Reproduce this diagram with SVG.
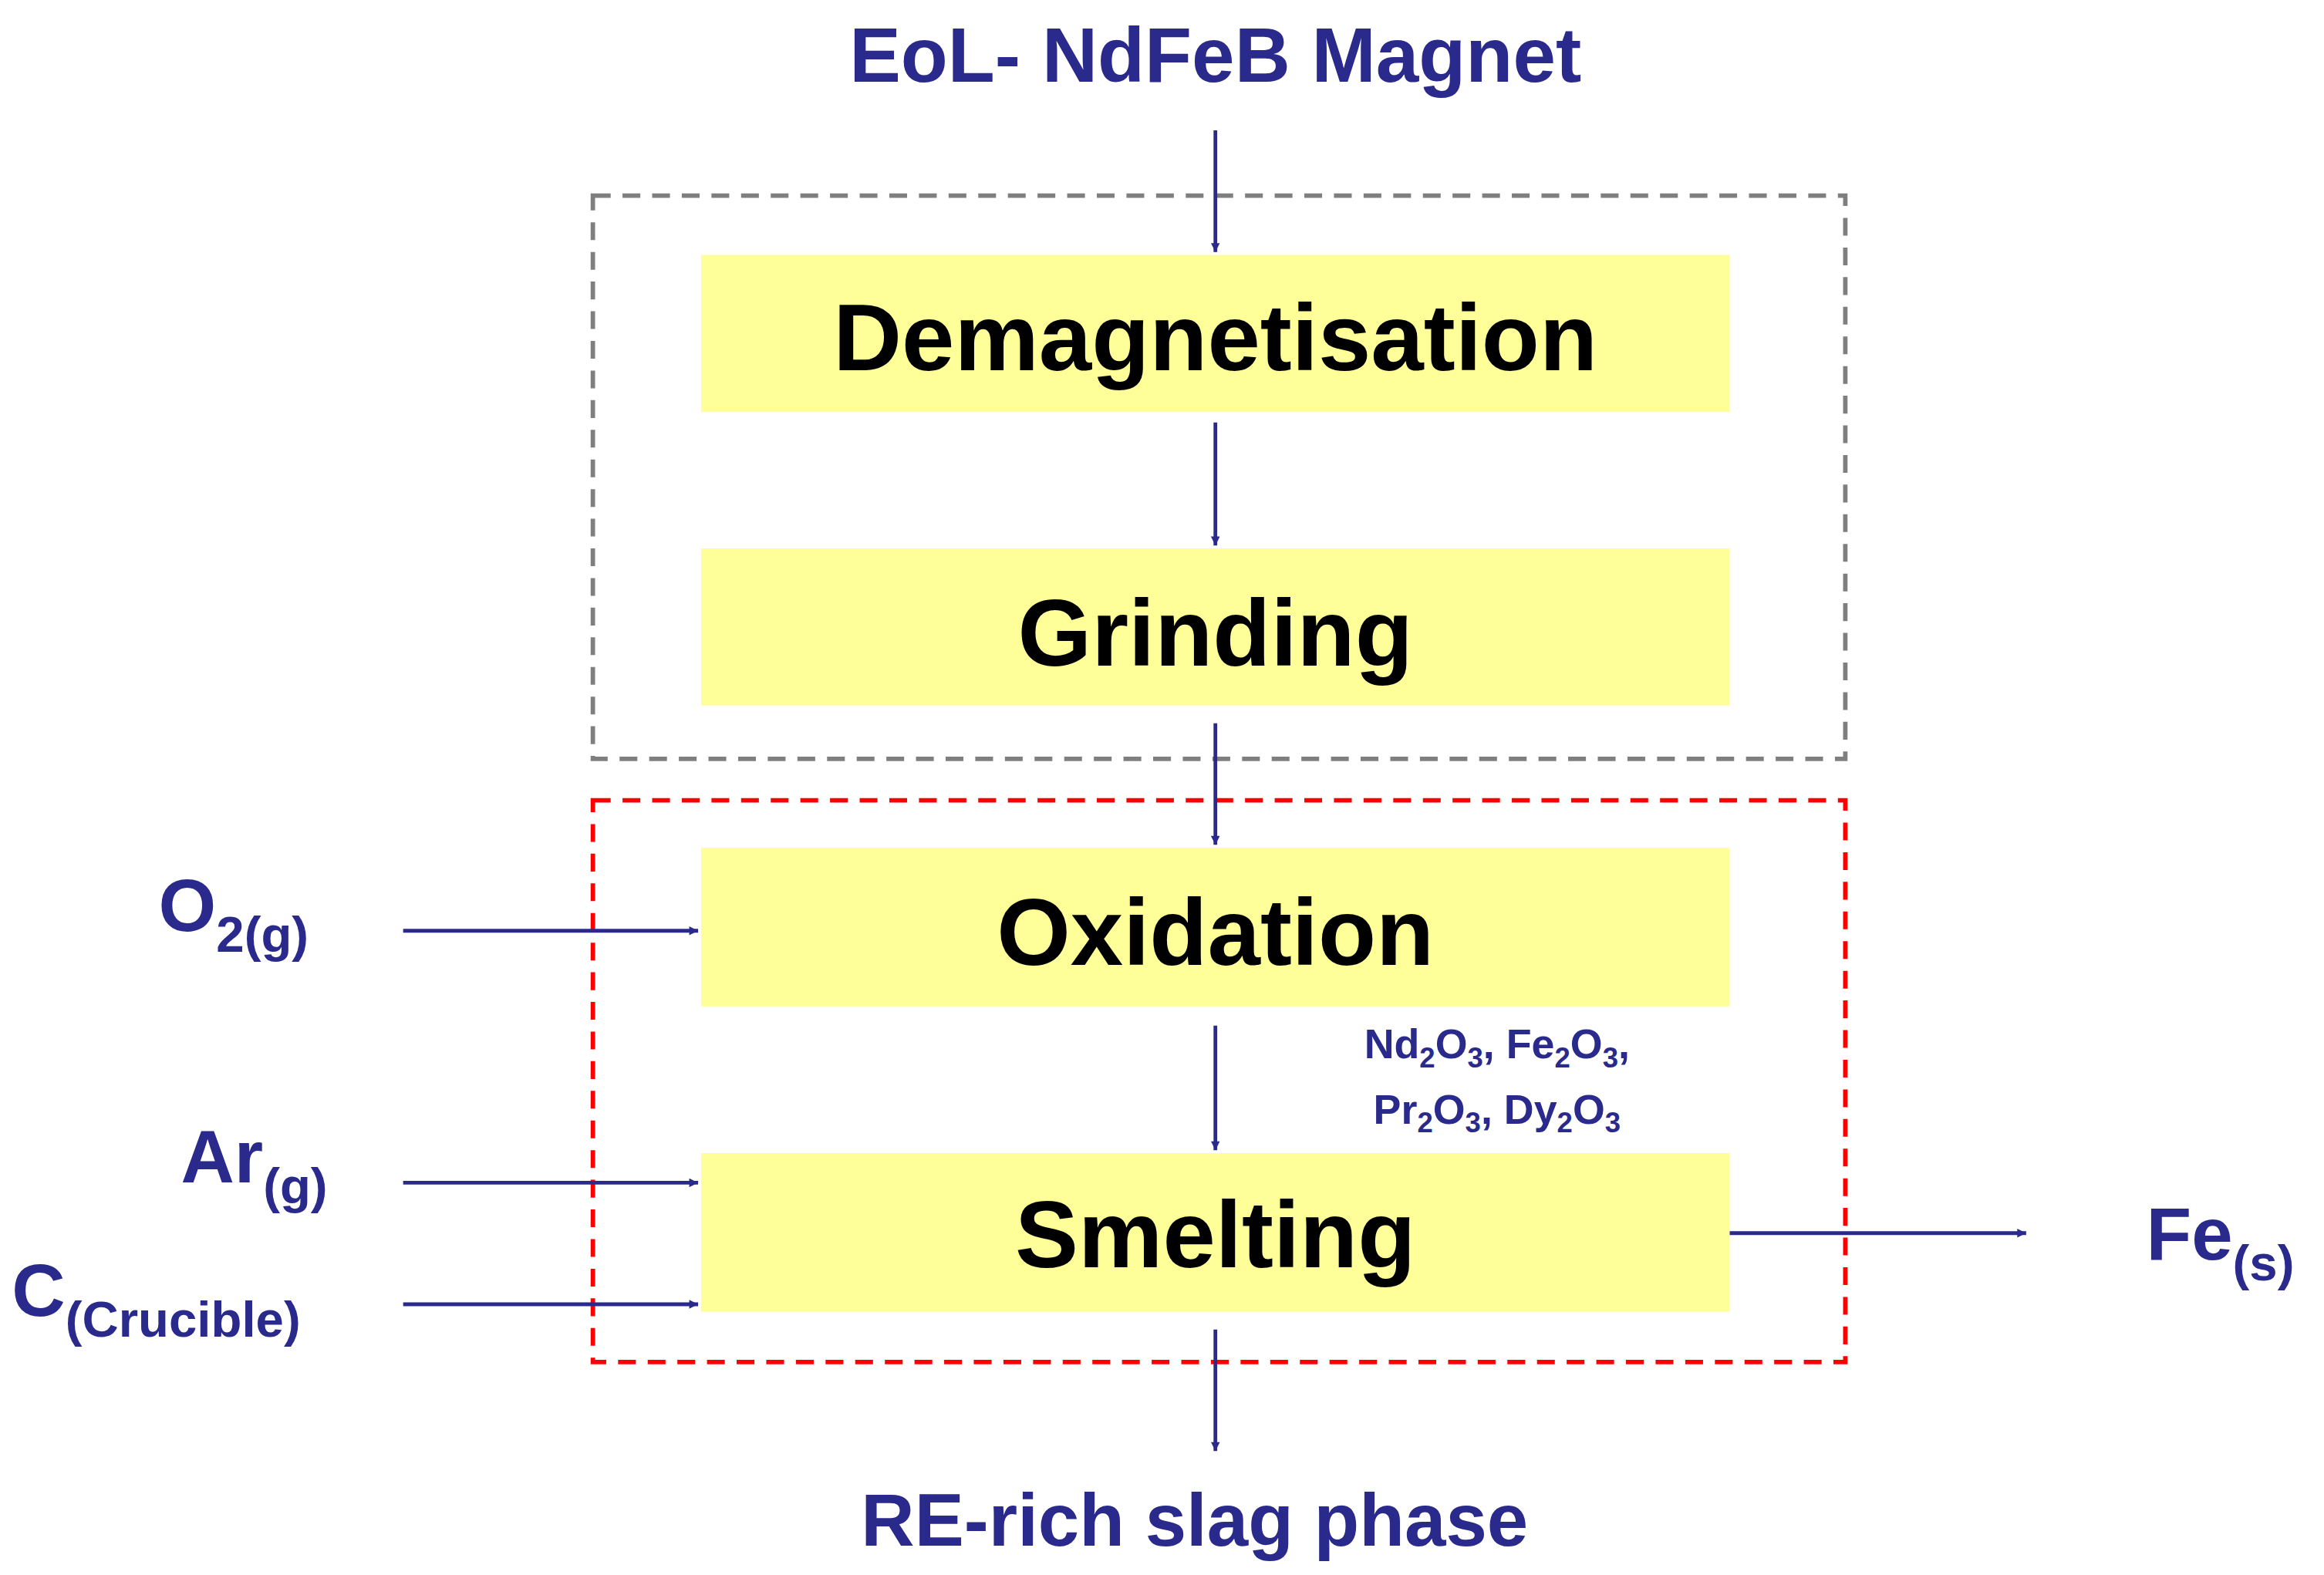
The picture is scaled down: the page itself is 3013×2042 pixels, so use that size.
<svg xmlns="http://www.w3.org/2000/svg" width="3013" height="2042" viewBox="0 0 3013 2042">
<style>
.box{fill:#ffff99}
.step{font-family:"Liberation Sans",Arial,sans-serif;font-weight:bold;font-size:64px;fill:#000;text-anchor:middle}
.lbl{font-family:"Liberation Sans",Arial,sans-serif;font-weight:bold;fill:#2a2a8c}
.ar{stroke:#2a2a8c;stroke-width:2.5;fill:none;marker-end:url(#ah)}
</style>
<defs><marker id="ah" viewBox="0 0 10 10" refX="10" refY="5" markerWidth="7" markerHeight="6" markerUnits="userSpaceOnUse" orient="auto"><path d="M0,0L10,5L0,10z" fill="#2a2a8c"/></marker></defs>
<rect width="3013" height="2042" fill="#fff"/>
<g transform="scale(1.9216)">
<rect x="400" y="132" width="845" height="380" fill="none" stroke="#7f7f7f" stroke-width="3" stroke-dasharray="12,8"/>
<rect x="400" y="540" width="845" height="379" fill="none" stroke="#ff0000" stroke-width="3" stroke-dasharray="12,8"/>
<g id="title"><text class="lbl" x="820" y="55" font-size="52" text-anchor="middle">EoL- NdFeB Magnet</text></g>
<g id="demag"><rect class="box" x="473" y="172" width="694" height="106"/><text class="step" x="820" y="250">Demagnetisation</text></g>
<g id="grinding"><rect class="box" x="473" y="370" width="694" height="106"/><text class="step" x="820" y="449">Grinding</text></g>
<g id="oxidation"><rect class="box" x="473" y="572" width="694" height="107"/><text class="step" x="820" y="651">Oxidation</text></g>
<g id="smelting"><rect class="box" x="473" y="778" width="694" height="107"/><text class="step" x="820" y="855">Smelting</text></g>
<g id="oxides" class="lbl" font-size="28">
<text x="1010" y="714" text-anchor="middle">Nd<tspan font-size="19" dy="6">2</tspan><tspan dy="-6">O</tspan><tspan font-size="19" dy="6">3</tspan><tspan dy="-6">, Fe</tspan><tspan font-size="19" dy="6">2</tspan><tspan dy="-6">O</tspan><tspan font-size="19" dy="6">3</tspan><tspan dy="-6">,</tspan></text>
<text x="1010" y="758" text-anchor="middle">Pr<tspan font-size="19" dy="6">2</tspan><tspan dy="-6">O</tspan><tspan font-size="19" dy="6">3</tspan><tspan dy="-6">, Dy</tspan><tspan font-size="19" dy="6">2</tspan><tspan dy="-6">O</tspan><tspan font-size="19" dy="6">3</tspan></text>
</g>
<g id="o2"><text class="lbl" x="107" y="628" font-size="50">O<tspan font-size="34" dy="14">2(g)</tspan></text></g>
<g id="ar"><text class="lbl" x="122" y="798" font-size="50">Ar<tspan font-size="34" dy="14">(g)</tspan></text></g>
<g id="c"><text class="lbl" x="8" y="888" font-size="50">C<tspan font-size="34" dy="14">(Crucible)</tspan></text></g>
<g id="fe"><text class="lbl" x="1448" y="850" font-size="50">Fe<tspan font-size="34" dy="14">(s)</tspan></text></g>
<g id="slag"><text class="lbl" x="806" y="1043" font-size="50" text-anchor="middle">RE-rich slag phase</text></g>
<g id="connectors">
<line class="ar" x1="820" y1="88" x2="820" y2="170"/>
<line class="ar" x1="820" y1="285" x2="820" y2="368"/>
<line class="ar" x1="820" y1="488" x2="820" y2="570"/>
<line class="ar" x1="820" y1="692" x2="820" y2="776"/>
<line class="ar" x1="820" y1="897" x2="820" y2="979"/>
<line class="ar" x1="272" y1="628" x2="471" y2="628"/>
<line class="ar" x1="272" y1="798" x2="471" y2="798"/>
<line class="ar" x1="272" y1="880" x2="471" y2="880"/>
<line class="ar" x1="1167" y1="832" x2="1367" y2="832"/>
</g>
</g>
</svg>
